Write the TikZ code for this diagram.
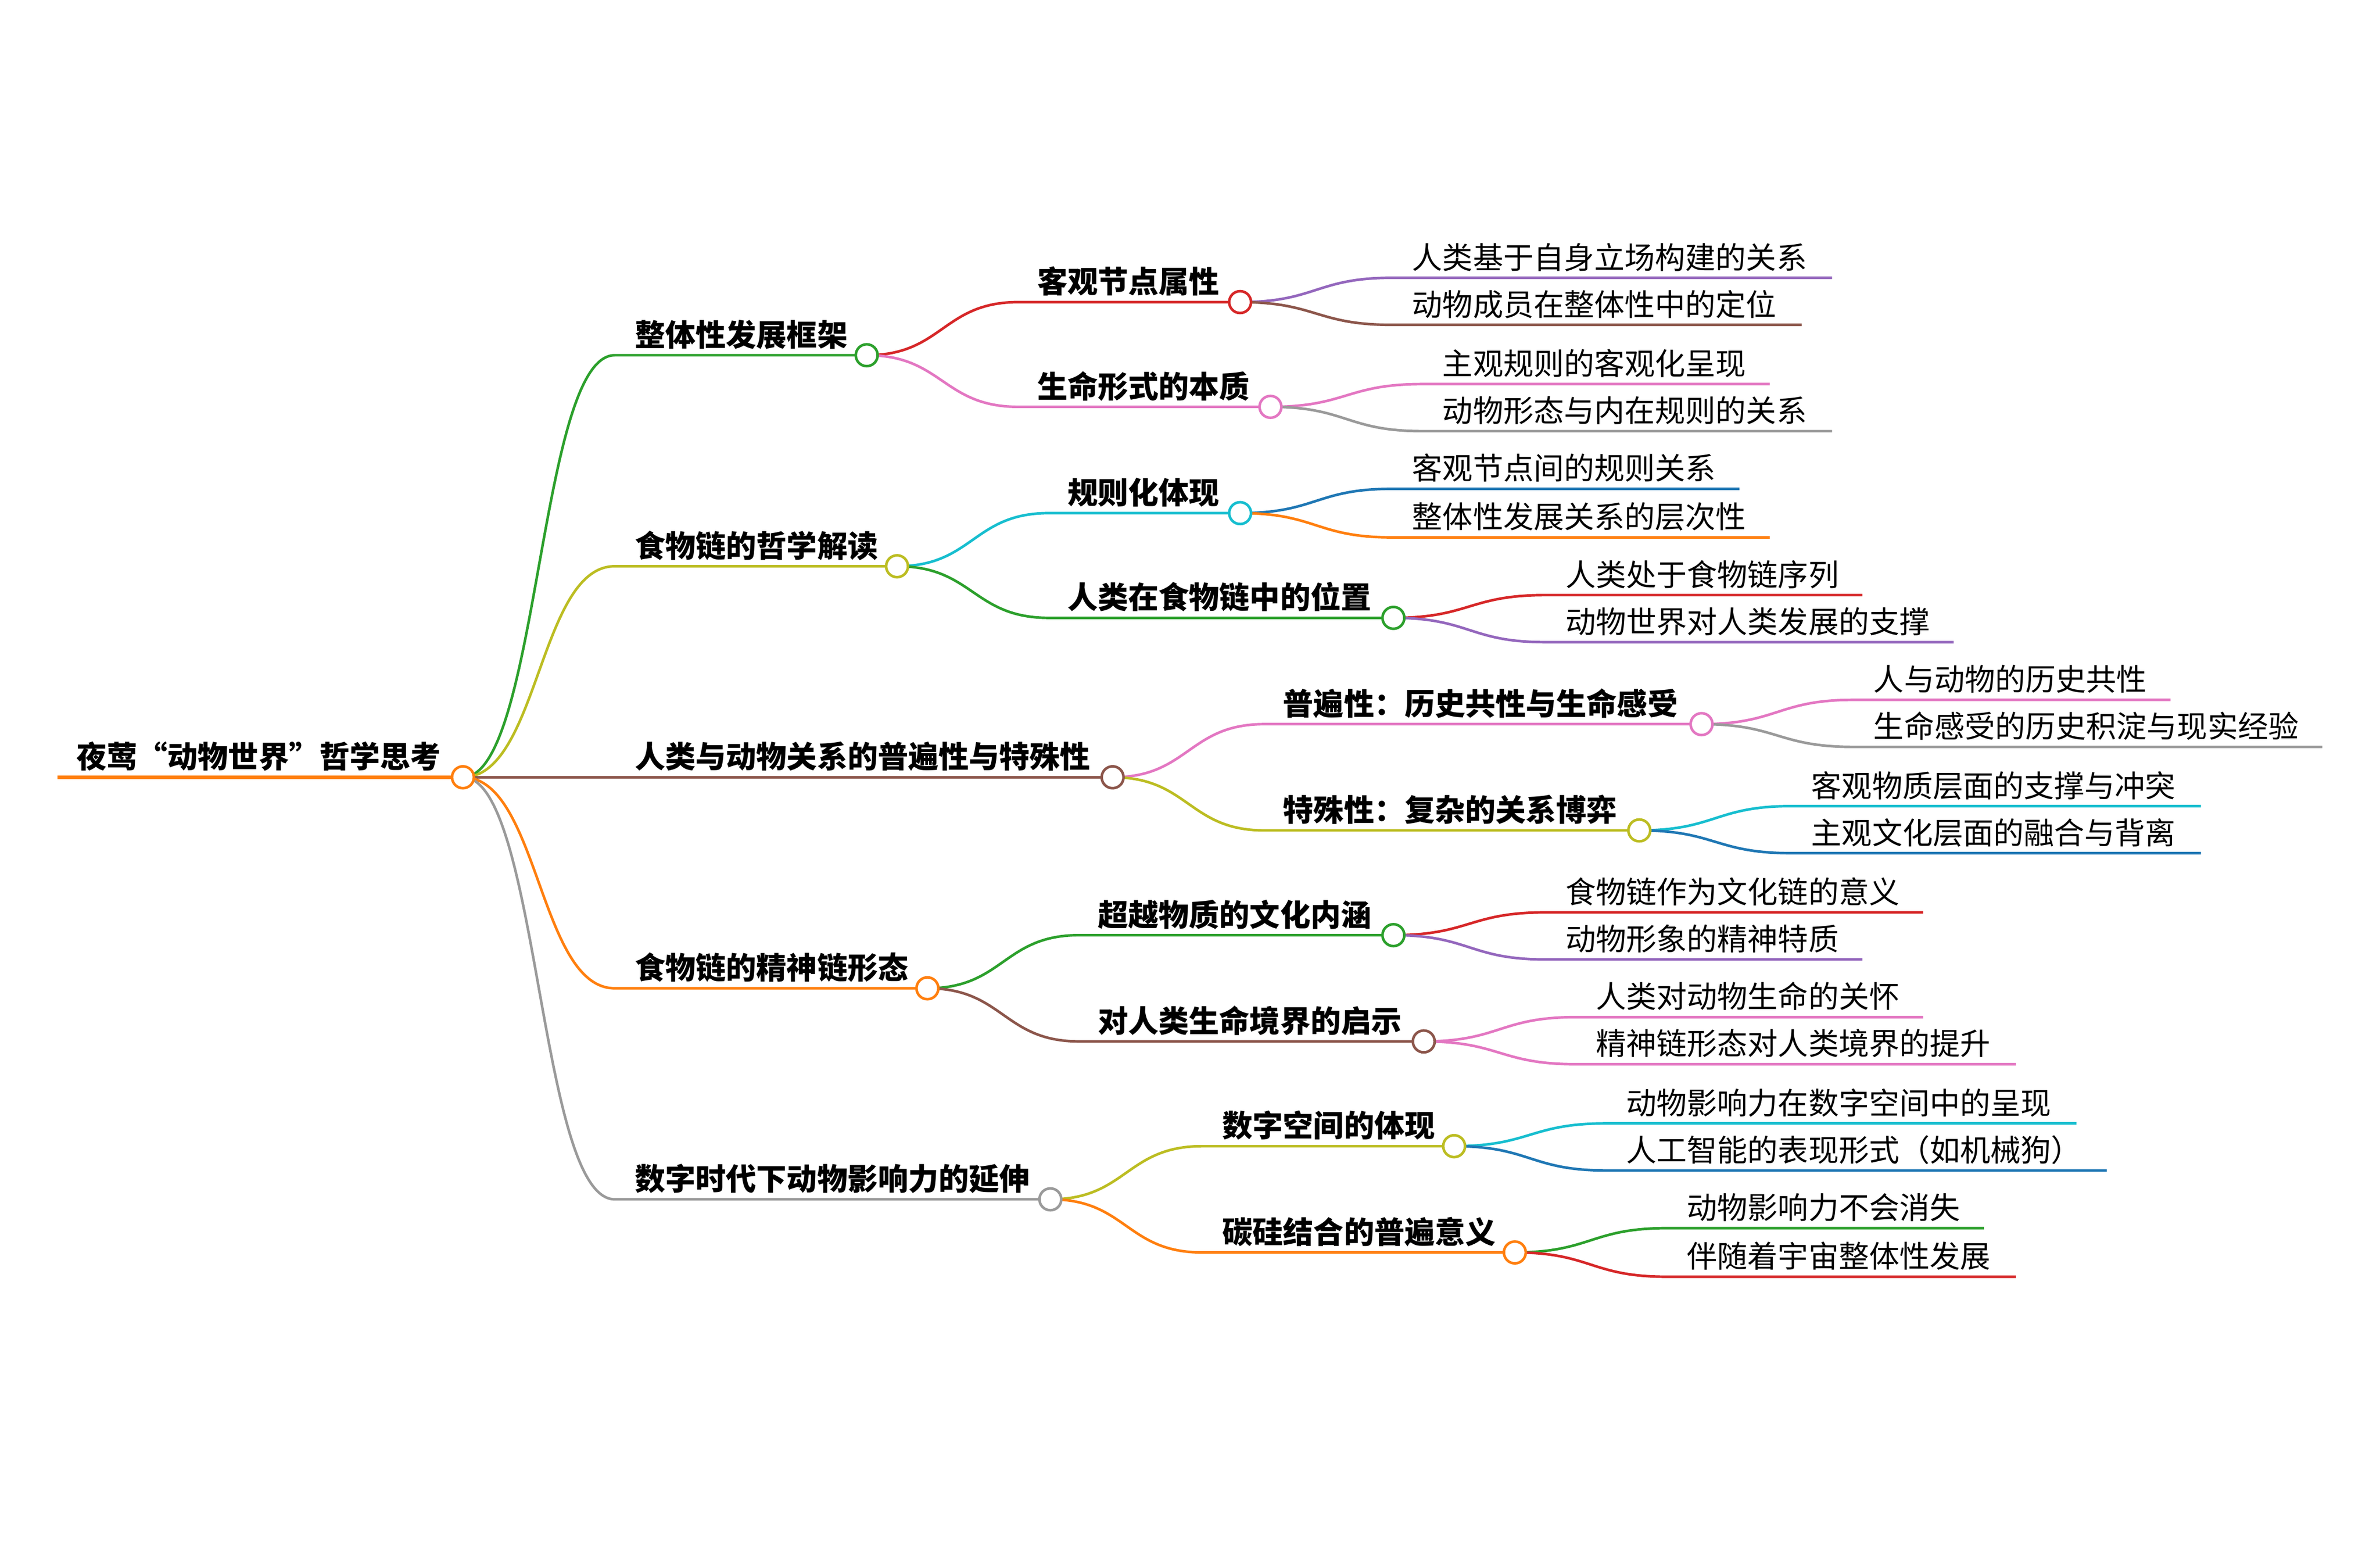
\documentclass[tikz,border=0pt]{standalone}
\usepackage{fontspec}
\setmainfont{Noto Sans CJK SC}
\usetikzlibrary{backgrounds}
\usepackage{xcolor}
\definecolor{mmblue}{HTML}{1F77B4}
\definecolor{mmorange}{HTML}{FF7F0E}
\definecolor{mmgreen}{HTML}{2CA02C}
\definecolor{mmred}{HTML}{D62728}
\definecolor{mmpurple}{HTML}{9467BD}
\definecolor{mmbrown}{HTML}{8C564B}
\definecolor{mmpink}{HTML}{E377C2}
\definecolor{mmgrey}{HTML}{9A9A9A}
\definecolor{mmolive}{HTML}{BCBD22}
\definecolor{mmcyan}{HTML}{17BECF}

\begin{document}
\begin{tikzpicture}[
    x=0.5pt, y=-0.5pt,
    topic/.style={
        anchor=base west,
        inner sep=0pt,
        font=\fontsize{10}{12}\selectfont\bfseries,
    },
    leaf/.style={
        anchor=base west,
        inner sep=0pt,
        font=\fontsize{10}{12}\selectfont,
    },
    knob/.style={
        circle,
        draw=#1,
        fill=white,
        line width=0.85pt,
        minimum size=7.2pt,
        inner sep=0pt,
    },
    link/.style={
        draw=#1,
        line width=0.85pt,
    },
]
\useasboundingbox (0,0) rectangle (1568,1021);

% root
\node[topic] (R) at (50,506) {夜莺“动物世界”哲学思考};
\coordinate (Rs) at (38,512);
\node[knob=mmorange] (Rc) at (305,512) {};

% first level
\node[topic] (B1) at (418,228) {整体性发展框架};
\coordinate (B1s) at (405,234);
\node[knob=mmgreen] (B1c) at (571,234) {};
\node[topic] (B2) at (418,367) {食物链的哲学解读};
\coordinate (B2s) at (405,373);
\node[knob=mmolive] (B2c) at (591,373) {};
\node[topic] (B3) at (418,506) {人类与动物关系的普遍性与特殊性};
\coordinate (B3s) at (405,512);
\node[knob=mmbrown] (B3c) at (733,512) {};
\node[topic] (B4) at (418,645) {食物链的精神链形态};
\coordinate (B4s) at (405,651);
\node[knob=mmorange] (B4c) at (611,651) {};
\node[topic] (B5) at (418,784) {数字时代下动物影响力的延伸};
\coordinate (B5s) at (405,790);
\node[knob=mmgrey] (B5c) at (692,790) {};

% second level
\node[topic] (C11) at (683,193) {客观节点属性};
\coordinate (C11s) at (671,199);
\node[knob=mmred] (C11c) at (817,199) {};
\node[topic] (C12) at (683,262) {生命形式的本质};
\coordinate (C12s) at (671,268);
\node[knob=mmpink] (C12c) at (837,268) {};
\node[topic] (C21) at (703,332) {规则化体现};
\coordinate (C21s) at (691,338);
\node[knob=mmcyan] (C21c) at (817,338) {};
\node[topic] (C22) at (703,401) {人类在食物链中的位置};
\coordinate (C22s) at (691,407);
\node[knob=mmgreen] (C22c) at (918,407) {};
\node[topic] (C31) at (845,471) {普遍性：历史共性与生命感受};
\coordinate (C31s) at (833,477);
\node[knob=mmpink] (C31c) at (1121,477) {};
\node[topic] (C32) at (845,541) {特殊性：复杂的关系博弈};
\coordinate (C32s) at (833,547);
\node[knob=mmolive] (C32c) at (1080,547) {};
\node[topic] (C41) at (723,610) {超越物质的文化内涵};
\coordinate (C41s) at (711,616);
\node[knob=mmgreen] (C41c) at (918,616) {};
\node[topic] (C42) at (723,680) {对人类生命境界的启示};
\coordinate (C42s) at (711,686);
\node[knob=mmbrown] (C42c) at (938,686) {};
\node[topic] (C51) at (805,749) {数字空间的体现};
\coordinate (C51s) at (792,755);
\node[knob=mmolive] (C51c) at (958,755) {};
\node[topic] (C52) at (805,819) {碳硅结合的普遍意义};
\coordinate (C52s) at (792,825);
\node[knob=mmorange] (C52c) at (998,825) {};

% leaves
\node[leaf] (D111) at (930,177) {人类基于自身立场构建的关系};
\coordinate (D111s) at (917,183); \coordinate (D111e) at (1207,183);
\node[leaf] (D112) at (930,208) {动物成员在整体性中的定位};
\coordinate (D112s) at (917,214); \coordinate (D112e) at (1187,214);
\node[leaf] (D121) at (950,247) {主观规则的客观化呈现};
\coordinate (D121s) at (937,253); \coordinate (D121e) at (1166,253);
\node[leaf] (D122) at (950,278) {动物形态与内在规则的关系};
\coordinate (D122s) at (937,284); \coordinate (D122e) at (1207,284);
\node[leaf] (D211) at (930,316) {客观节点间的规则关系};
\coordinate (D211s) at (917,322); \coordinate (D211e) at (1146,322);
\node[leaf] (D212) at (930,348) {整体性发展关系的层次性};
\coordinate (D212s) at (917,354); \coordinate (D212e) at (1166,354);
\node[leaf] (D221) at (1031,386) {人类处于食物链序列};
\coordinate (D221s) at (1018,392); \coordinate (D221e) at (1227,392);
\node[leaf] (D222) at (1031,417) {动物世界对人类发展的支撑};
\coordinate (D222s) at (1018,423); \coordinate (D222e) at (1287,423);
\node[leaf] (D311) at (1234,455) {人与动物的历史共性};
\coordinate (D311s) at (1221,461); \coordinate (D311e) at (1430,461);
\node[leaf] (D312) at (1234,486) {生命感受的历史积淀与现实经验};
\coordinate (D312s) at (1221,492); \coordinate (D312e) at (1530,492);
\node[leaf] (D321) at (1193,525) {客观物质层面的支撑与冲突};
\coordinate (D321s) at (1180,531); \coordinate (D321e) at (1450,531);
\node[leaf] (D322) at (1193,556) {主观文化层面的融合与背离};
\coordinate (D322s) at (1180,562); \coordinate (D322e) at (1450,562);
\node[leaf] (D411) at (1031,595) {食物链作为文化链的意义};
\coordinate (D411s) at (1018,601); \coordinate (D411e) at (1267,601);
\node[leaf] (D412) at (1031,626) {动物形象的精神特质};
\coordinate (D412s) at (1018,632); \coordinate (D412e) at (1227,632);
\node[leaf] (D421) at (1051,664) {人类对动物生命的关怀};
\coordinate (D421s) at (1038,670); \coordinate (D421e) at (1267,670);
\node[leaf] (D422) at (1051,695) {精神链形态对人类境界的提升};
\coordinate (D422s) at (1038,701); \coordinate (D422e) at (1328,701);
\node[leaf] (D511) at (1071,734) {动物影响力在数字空间中的呈现};
\coordinate (D511s) at (1058,740); \coordinate (D511e) at (1368,740);
\node[leaf] (D512) at (1071,765) {人工智能的表现形式（如机械狗）};
\coordinate (D512s) at (1058,771); \coordinate (D512e) at (1388,771);
\node[leaf] (D521) at (1111,803) {动物影响力不会消失};
\coordinate (D521s) at (1098,809); \coordinate (D521e) at (1307,809);
\node[leaf] (D522) at (1111,835) {伴随着宇宙整体性发展};
\coordinate (D522s) at (1098,841); \coordinate (D522e) at (1328,841);

\begin{scope}[on background layer]
% root line
\draw[link=mmorange, line width=1.3pt] (Rs) -- (Rc.center);
% root to first level
\draw[link=mmgreen] (Rc.center) .. controls (355,512) and (355,234) .. (B1s) -- (B1c.center);
\draw[link=mmolive] (Rc.center) .. controls (355,512) and (355,373) .. (B2s) -- (B2c.center);
\draw[link=mmbrown] (Rc.center) -- (B3s) -- (B3c.center);
\draw[link=mmorange] (Rc.center) .. controls (355,512) and (355,651) .. (B4s) -- (B4c.center);
\draw[link=mmgrey] (Rc.center) .. controls (355,512) and (355,790) .. (B5s) -- (B5c.center);
% first to second level
\draw[link=mmred] (B1c.center) .. controls (621,234) and (621,199) .. (C11s) -- (C11c.center);
\draw[link=mmpink] (B1c.center) .. controls (621,234) and (621,268) .. (C12s) -- (C12c.center);
\draw[link=mmcyan] (B2c.center) .. controls (641,373) and (641,338) .. (C21s) -- (C21c.center);
\draw[link=mmgreen] (B2c.center) .. controls (641,373) and (641,407) .. (C22s) -- (C22c.center);
\draw[link=mmpink] (B3c.center) .. controls (783,512) and (783,477) .. (C31s) -- (C31c.center);
\draw[link=mmolive] (B3c.center) .. controls (783,512) and (783,547) .. (C32s) -- (C32c.center);
\draw[link=mmgreen] (B4c.center) .. controls (661,651) and (661,616) .. (C41s) -- (C41c.center);
\draw[link=mmbrown] (B4c.center) .. controls (661,651) and (661,686) .. (C42s) -- (C42c.center);
\draw[link=mmolive] (B5c.center) .. controls (742,790) and (742,755) .. (C51s) -- (C51c.center);
\draw[link=mmorange] (B5c.center) .. controls (742,790) and (742,825) .. (C52s) -- (C52c.center);
% second level to leaves
\draw[link=mmpurple] (C11c.center) .. controls (867,199) and (867,183) .. (D111s) -- (D111e);
\draw[link=mmbrown] (C11c.center) .. controls (867,199) and (867,214) .. (D112s) -- (D112e);
\draw[link=mmpink] (C12c.center) .. controls (887,268) and (887,253) .. (D121s) -- (D121e);
\draw[link=mmgrey] (C12c.center) .. controls (887,268) and (887,284) .. (D122s) -- (D122e);
\draw[link=mmblue] (C21c.center) .. controls (867,338) and (867,322) .. (D211s) -- (D211e);
\draw[link=mmorange] (C21c.center) .. controls (867,338) and (867,354) .. (D212s) -- (D212e);
\draw[link=mmred] (C22c.center) .. controls (968,407) and (968,392) .. (D221s) -- (D221e);
\draw[link=mmpurple] (C22c.center) .. controls (968,407) and (968,423) .. (D222s) -- (D222e);
\draw[link=mmpink] (C31c.center) .. controls (1171,477) and (1171,461) .. (D311s) -- (D311e);
\draw[link=mmgrey] (C31c.center) .. controls (1171,477) and (1171,492) .. (D312s) -- (D312e);
\draw[link=mmcyan] (C32c.center) .. controls (1130,547) and (1130,531) .. (D321s) -- (D321e);
\draw[link=mmblue] (C32c.center) .. controls (1130,547) and (1130,562) .. (D322s) -- (D322e);
\draw[link=mmred] (C41c.center) .. controls (968,616) and (968,601) .. (D411s) -- (D411e);
\draw[link=mmpurple] (C41c.center) .. controls (968,616) and (968,632) .. (D412s) -- (D412e);
\draw[link=mmpink] (C42c.center) .. controls (988,686) and (988,670) .. (D421s) -- (D421e);
\draw[link=mmpink] (C42c.center) .. controls (988,686) and (988,701) .. (D422s) -- (D422e);
\draw[link=mmcyan] (C51c.center) .. controls (1008,755) and (1008,740) .. (D511s) -- (D511e);
\draw[link=mmblue] (C51c.center) .. controls (1008,755) and (1008,771) .. (D512s) -- (D512e);
\draw[link=mmgreen] (C52c.center) .. controls (1048,825) and (1048,809) .. (D521s) -- (D521e);
\draw[link=mmred] (C52c.center) .. controls (1048,825) and (1048,841) .. (D522s) -- (D522e);
\end{scope}

\end{tikzpicture}
\end{document}
